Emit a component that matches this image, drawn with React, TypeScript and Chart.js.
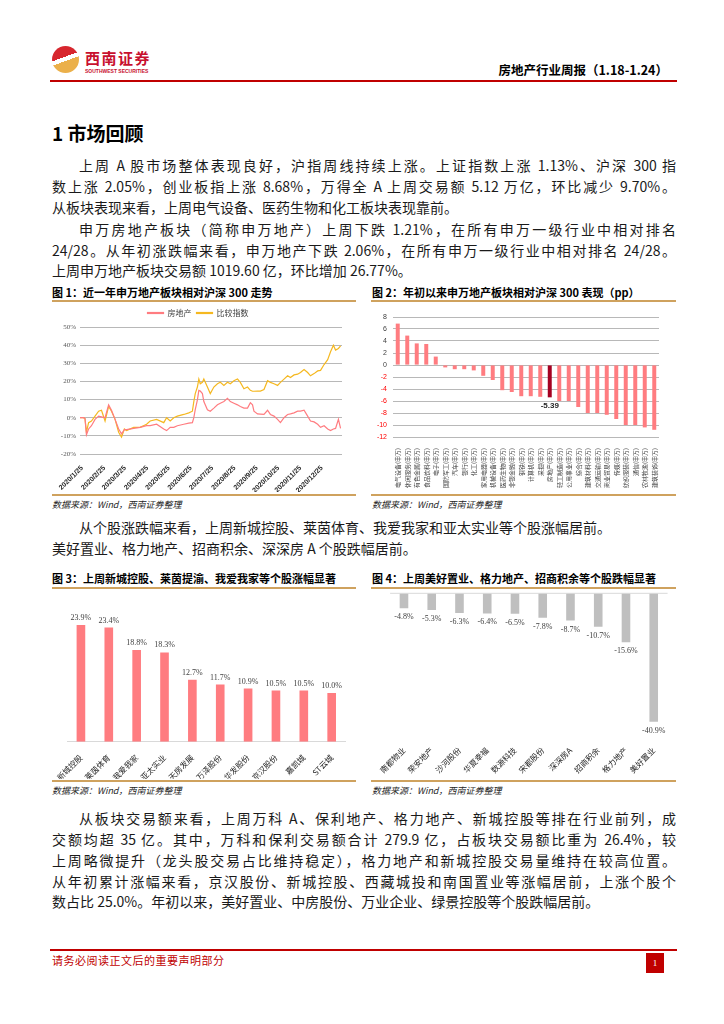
import React, { useEffect, useRef } from "react";
import { Chart, registerables } from "chart.js";

Chart.register(...registerables);

const SANS = '"Liberation Sans", "Noto Sans CJK SC", sans-serif';
const CJK = '"Noto Sans CJK SC", "Liberation Sans", sans-serif';
const SERIF = '"Liberation Serif", "Noto Sans CJK SC", serif';
const PINK = "#FF7C80";
const GOLD = "#F5B820";
const DARK_RED = "#A50021";
const GREY_BAR = "#BFBFBF";
const RED = "#C00000";
const TAN = "#CFA25E";

// ---------- Figure 1: 近一年申万地产板块相对沪深300走势 ----------
const trendStart = "2020/1/22";
const trendEnd = "2021/1/22";
const trendTickLabels = [
  "2020/1/25", "2020/2/25", "2020/3/25", "2020/4/25", "2020/5/25", "2020/6/25",
  "2020/7/25", "2020/8/25", "2020/9/25", "2020/10/25", "2020/11/25", "2020/12/25",
];
const trendDates = [
  "2020/1/22", "2020/1/27", "2020/1/29", "2020/1/31", "2020/2/3",
  "2020/2/7", "2020/2/12", "2020/2/17", "2020/2/21", "2020/2/26", "2020/3/2", "2020/3/6", "2020/3/11", "2020/3/16", "2020/3/20",
  "2020/3/24", "2020/3/27",
  "2020/4/6", "2020/4/15", "2020/4/24", "2020/4/29", "2020/5/8", "2020/5/18", "2020/5/22", "2020/5/27", "2020/6/1", "2020/6/6",
  "2020/6/15", "2020/6/22", "2020/6/27",
  "2020/6/29", "2020/7/1", "2020/7/4", "2020/7/6", "2020/7/8", "2020/7/11", "2020/7/13",
  "2020/7/18", "2020/7/22", "2020/7/27", "2020/8/1", "2020/8/5", "2020/8/10", "2020/8/15", "2020/8/19", "2020/8/24", "2020/8/29", "2020/9/2", "2020/9/7", "2020/9/12", "2020/9/16",
  "2020/9/19", "2020/9/21",
  "2020/9/26", "2020/9/30", "2020/10/5", "2020/10/10", "2020/10/14", "2020/10/19", "2020/10/24", "2020/10/28", "2020/11/2", "2020/11/7", "2020/11/11", "2020/11/16", "2020/11/21", "2020/11/25", "2020/11/30", "2020/12/5", "2020/12/9", "2020/12/14", "2020/12/19", "2020/12/23", "2020/12/28", "2021/1/2", "2021/1/6",
  "2021/1/10", "2021/1/13", "2021/1/17", "2021/1/20",
];
const realEstateTrend = [
  0, 0, -0.5, -9.4, -6.2,
  -4.4, -0.9, 0.9, 0.5, 0, 7.1, 4.1, -0.9, -6.2, -8.9,
  -6.6, -6.6,
  -5.9, -5.3, -4.4, -4.4, -3.6, -6.2, -7.1, -5.3, -5.3, -4.4,
  -3.6, -3.0, -2.7,
  0, 4.4, 9.8, 15.1, 14.7, 13.3, 8.9,
  4.4, 3.6, 5.3, 7.1, 8.0, 8.9, 10.7, 8.9, 8.0, 7.1, 6.2, 5.3, 5.3, 8.3,
  7.1, 3.6,
  2.1, 2.0, 1.8, 4.1, 1.8, 0.9, -0.9, -2.7, 0, 1.8, 2.1, 2.7, 3.6, 3.6, 4.1, 0.9, -1.8, -2.3, -3.6, -5.3, -4.4, -6.2, -7.1,
  -6.2, -5.9, -0.9, -5.9,
];
const compareTrend = [
  0, 0, -0.5, -8.0, -2.7,
  -1.8, 0.9, 3.6, 4.1, -1.8, 6.2, 3.6, -0.9, -8.0, -10.7,
  -6.2, -7.1,
  -5.3, -5.3, -3.6, -1.8, -0.9, -2.7, 0, -1.8, 0, 0.9,
  1.8, 2.7, 3.6,
  8.9, 13.3, 16.9, 21.3, 18.7, 19.5, 21.3,
  16.9, 13.3, 16.9, 18.7, 19.5, 17.8, 19.5, 18.7, 20.4, 21.3, 19.5, 16.0, 16.9, 15.1,
  14.6, 14.6,
  14.7, 14.7, 15.5, 20.4, 19.5, 18.7, 17.8, 19.5, 21.3, 23.1, 22.2, 23.6, 24.0, 24.9, 26.6, 24.9, 23.1, 24.3, 25.8, 26.1, 29.3, 32.0, 36.4,
  40.0, 37.3, 38.2, 39.6,
];
const trendYTicks = [-20, -10, 0, 10, 20, 30, 40, 50];

// ---------- Figure 2: 年初以来申万一级行业相对沪深300表现 (pp) ----------
const industryNames = [
  "电气设备", "休闲服务", "有色金属", "食品饮料", "电子", "国防军工", "汽车", "银行",
  "化工", "家用电器", "机械设备", "医药生物", "非银金融", "钢铁", "计算机", "采掘",
  "房地产", "轻工制造", "公用事业", "综合", "建筑材料", "交通运输", "商业贸易", "传媒",
  "纺织服装", "通信", "农林牧渔", "建筑装饰",
];
const industryRel = [
  6.9, 4.9, 3.6, 3.5, 1.4, -0.4, -0.7, -0.7,
  -0.9, -1.8, -2.5, -4.2, -4.5, -5.2, -5.2, -5.3,
  -5.39, -6.0, -6.0, -7.0, -8.0, -8.0, -8.3, -9.0,
  -10.0, -10.0, -10.4, -10.8,
];
const industryHighlight = "房地产";
const industrySuffix = "(申万)";

// ---------- Figure 3: 上周涨幅居前个股 ----------
const gainNames = ["新城控股", "莱茵体育", "我爱我家", "亚太实业", "天房发展", "万泽股份", "华发股份", "京汉股份", "嘉凯城", "ST云城"];
const gainValues = [23.9, 23.4, 18.8, 18.3, 12.7, 11.7, 10.9, 10.5, 10.5, 10.0];

// ---------- Figure 4: 上周跌幅居前个股 ----------
const lossNames = ["南都物业", "荣安地产", "沙河股份", "华夏幸福", "数源科技", "宋都股份", "深深房A", "招商积余", "格力地产", "美好置业"];
const lossValues = [-4.8, -5.3, -6.3, -6.4, -6.5, -7.8, -8.7, -10.7, -15.6, -40.9];

const dayOf = (s: string) => {
  const [y, m, d] = s.split("/").map(Number);
  const [y0, m0, d0] = trendStart.split("/").map(Number);
  return (Date.UTC(y, m - 1, d) - Date.UTC(y0, m0 - 1, d0)) / 86400000;
};

function useChart(factory: () => any) {
  const ref = useRef<HTMLCanvasElement>(null);
  useEffect(() => {
    const chart = new Chart(ref.current as HTMLCanvasElement, factory());
    return () => chart.destroy();
  }, []);
  return ref;
}

function trendConfig() {
  return {
    type: "line",
    data: {
      datasets: [
        {
          label: "房地产",
          data: trendDates.map((d, i) => ({ x: dayOf(d), y: realEstateTrend[i] })),
          borderColor: PINK,
          backgroundColor: PINK,
          borderWidth: 1.2,
          pointRadius: 0,
        },
        {
          label: "比较指数",
          data: trendDates.map((d, i) => ({ x: dayOf(d), y: compareTrend[i] })),
          borderColor: GOLD,
          backgroundColor: GOLD,
          borderWidth: 1.2,
          pointRadius: 0,
        },
      ],
    },
    options: {
      responsive: false,
      animation: false,
      layout: { padding: { left: 2, right: 14, top: 2, bottom: 0 }, autoPadding: false },
      plugins: {
        legend: {
          display: true,
          position: "top",
          labels: { boxWidth: 16, boxHeight: 1, padding: 5, font: { size: 8, family: CJK }, color: "#404040" },
        },
        tooltip: { enabled: false },
      },
      scales: {
        x: {
          type: "linear",
          min: 0,
          max: dayOf(trendEnd),
          afterBuildTicks: (s: any) => {
            s.ticks = trendTickLabels.map((l) => ({ value: dayOf(l) }));
          },
          afterFit: (s: any) => {
            s.height = 38;
          },
          ticks: {
            autoSkip: false,
            minRotation: 45,
            maxRotation: 45,
            padding: 2,
            font: { size: 7, family: SANS, weight: "bold" },
            color: "#262626",
            callback: (_v: any, i: number) => trendTickLabels[i],
          },
          grid: { display: false },
          border: { display: false },
        },
        y: {
          min: trendYTicks[0],
          max: trendYTicks[trendYTicks.length - 1],
          afterBuildTicks: (s: any) => {
            s.ticks = trendYTicks.map((v) => ({ value: v }));
          },
          afterFit: (s: any) => {
            s.width = 26;
          },
          ticks: { font: { size: 7, family: SERIF }, color: "#595959", padding: 4, callback: (v: any) => v + "%" },
          grid: { color: "#A6A6A6", lineWidth: 0.8, drawTicks: false },
          border: { display: false },
        },
      },
    },
  };
}

function industryConfig() {
  const hi = industryNames.indexOf(industryHighlight);
  return {
    type: "bar",
    data: {
      labels: industryNames.map((n) => n + industrySuffix),
      datasets: [
        {
          data: industryRel,
          backgroundColor: industryNames.map((n) => (n === industryHighlight ? DARK_RED : PINK)),
          barPercentage: 0.42,
          categoryPercentage: 1,
        },
      ],
    },
    options: {
      responsive: false,
      animation: false,
      layout: { padding: { left: 0, right: 17, top: 15, bottom: 0 }, autoPadding: false },
      plugins: { legend: { display: false }, tooltip: { enabled: false } },
      scales: {
        x: {
          afterFit: (s: any) => {
            s.height = 55;
          },
          ticks: { autoSkip: false, minRotation: 90, maxRotation: 90, padding: 3, font: { size: 6, family: CJK }, color: "#404040" },
          grid: { display: false },
          border: { display: false },
        },
        y: {
          min: -12,
          max: 8,
          afterFit: (s: any) => {
            s.width = 22;
          },
          ticks: {
            stepSize: 2,
            padding: 6,
            font: { size: 7, family: SANS },
            color: (c: any) => (c.tick && c.tick.value < 0 ? "#FF0000" : "#404040"),
          },
          grid: { color: "#A6A6A6", lineWidth: 0.8, drawTicks: false },
          border: { display: false },
        },
      },
    },
    plugins: [
      {
        id: "hiLabel",
        afterDatasetsDraw(chart: any) {
          const el = chart.getDatasetMeta(0).data[hi];
          if (!el) return;
          const ctx = chart.ctx;
          ctx.save();
          ctx.font = "bold 8px " + SANS;
          ctx.fillStyle = "#262626";
          ctx.textAlign = "center";
          ctx.textBaseline = "top";
          ctx.fillText(industryRel[hi].toFixed(2), el.x, el.y + 4);
          ctx.restore();
        },
      },
    ],
  };
}

function stockConfig(names: string[], values: number[], color: string, min: number, max: number, pad: any, xh: number, showBorder: boolean) {
  return {
    type: "bar",
    data: {
      labels: names,
      datasets: [{ data: values, backgroundColor: color, barPercentage: 0.31, categoryPercentage: 1 }],
    },
    options: {
      responsive: false,
      animation: false,
      layout: { padding: pad, autoPadding: false },
      plugins: { legend: { display: false }, tooltip: { enabled: false } },
      scales: {
        x: {
          afterFit: (s: any) => {
            s.height = xh;
          },
          ticks: { autoSkip: false, minRotation: 45, maxRotation: 45, padding: 3, font: { size: 8, family: CJK }, color: "#262626" },
          grid: { display: false },
          border: { display: showBorder, color: "#D9D9D9", width: 1 },
        },
        y: { display: false, min, max },
      },
    },
    plugins: [
      {
        id: "valueLabels",
        afterDatasetsDraw(chart: any) {
          const ctx = chart.ctx;
          const meta = chart.getDatasetMeta(0);
          ctx.save();
          ctx.font = "8px " + SERIF;
          ctx.fillStyle = "#404040";
          ctx.textAlign = "center";
          meta.data.forEach((el: any, i: number) => {
            const v = values[i];
            if (v >= 0) {
              ctx.textBaseline = "bottom";
              ctx.fillText(v.toFixed(1) + "%", el.x, el.y - 3);
            } else {
              ctx.textBaseline = "top";
              ctx.fillText(v.toFixed(1) + "%", el.x, el.y + 5);
            }
          });
          if (min < 0 && max === 0) {
            const y0 = chart.scales.y.getPixelForValue(0);
            ctx.strokeStyle = "#D9D9D9";
            ctx.lineWidth = 1;
            ctx.beginPath();
            ctx.moveTo(chart.chartArea.left, y0);
            ctx.lineTo(chart.chartArea.right, y0);
            ctx.stroke();
          }
          ctx.restore();
        },
      },
    ],
  };
}

const abs = (left: number, top: number, extra: any = {}) => ({ position: "absolute" as const, left, top, ...extra });

function TextLine({ top, text, indent = false, justify = true }: { top: number; text: string; indent?: boolean; justify?: boolean }) {
  return (
    <div
      style={abs(52, top, {
        width: 624,
        boxSizing: "border-box",
        paddingLeft: indent ? 27 : 0,
        fontSize: 14,
        lineHeight: "20px",
        fontFamily: CJK,
        color: "#1a1a1a",
        textAlign: justify ? "justify" : "left",
        textAlignLast: justify ? "justify" : "left",
      })}
    >
      {text}
    </div>
  );
}

function FigTitle({ left, top, text }: { left: number; top: number; text: string }) {
  return (
    <div style={abs(left, top, { fontSize: 11, fontWeight: 700, fontFamily: CJK, color: "#000", lineHeight: "14px", whiteSpace: "nowrap" })}>{text}</div>
  );
}

function Rule({ left, top, width, color = TAN, h = 1.5 }: any) {
  return <div style={abs(left, top, { width, height: h, background: color })} />;
}

function Source({ left, top }: { left: number; top: number }) {
  return (
    <div style={abs(left, top, { fontSize: 9, fontStyle: "italic", fontFamily: CJK, color: "#262626", lineHeight: "12px", whiteSpace: "nowrap" })}>
      数据来源：Wind，西南证券整理
    </div>
  );
}

export default function App() {
  const c1 = useChart(trendConfig);
  const c2 = useChart(industryConfig);
  const c3 = useChart(() =>
    stockConfig(gainNames, gainValues, PINK, 0, 30, { left: 15, right: 10.4, top: 6.3, bottom: 0 }, 37.3, true)
  );
  const c4 = useChart(() =>
    stockConfig(lossNames, lossValues, GREY_BAR, -45, 0, { left: 19.1, right: 8.4, top: 4.3, bottom: 0 }, 44.5, false)
  );

  return (
    <div style={{ position: "relative", width: 724, height: 1024, margin: -8, background: "#fff", overflow: "hidden" }}>
      {/* header */}
      <div
        style={abs(52, 46, {
          width: 27,
          height: 27,
          borderRadius: "50%",
          background: "linear-gradient(160deg, #D7262E 0%, #D7262E 42%, #ffffff 42%, #ffffff 54%, #EBB04A 54%, #EBB04A 100%)",
        })}
      />
      <div style={abs(85, 49, { fontSize: 15, fontWeight: 700, color: "#C8102E", fontFamily: CJK, letterSpacing: 1.5, lineHeight: "18px" })}>西南证券</div>
      <div style={abs(85, 68, { fontSize: 5, color: "#C8102E", fontFamily: SANS, fontWeight: 700, lineHeight: "6px", whiteSpace: "nowrap" })}>
        SOUTHWEST SECURITIES
      </div>
      <div style={abs(400, 62, { width: 268, textAlign: "right", fontSize: 12.5, fontWeight: 700, fontFamily: CJK, lineHeight: "16px", color: "#000" })}>
        房地产行业周报（1.18-1.24）
      </div>
      <Rule left={50} top={80} width={627} color={RED} h={2} />

      {/* section 1 */}
      <div style={abs(52, 120, { fontSize: 19, fontWeight: 700, fontFamily: CJK, lineHeight: "26px", color: "#000" })}>1 市场回顾</div>

      <TextLine top={155} indent text="上周 A 股市场整体表现良好，沪指周线持续上涨。上证指数上涨 1.13%、沪深 300 指" />
      <TextLine top={176} text="数上涨 2.05%，创业板指上涨 8.68%，万得全 A 上周交易额 5.12 万亿，环比减少 9.70%。" />
      <TextLine top={197} justify={false} text="从板块表现来看，上周电气设备、医药生物和化工板块表现靠前。" />

      <TextLine top={219} indent text="申万房地产板块（简称申万地产）上周下跌 1.21%，在所有申万一级行业中相对排名" />
      <TextLine top={240} text="24/28。从年初涨跌幅来看，申万地产下跌 2.06%，在所有申万一级行业中相对排名 24/28。" />
      <TextLine top={260} justify={false} text="上周申万地产板块交易额 1019.60 亿，环比增加 26.77%。" />

      {/* figures 1 & 2 */}
      <FigTitle left={52} top={285} text="图 1：近一年申万地产板块相对沪深 300 走势" />
      <FigTitle left={372} top={285} text="图 2：年初以来申万地产板块相对沪深 300 表现（pp）" />
      <Rule left={52} top={300} width={304} />
      <Rule left={371} top={300} width={305} />
      <canvas ref={c1} width={304} height={190} style={abs(52, 302, { width: 304, height: 190 })} />
      <canvas ref={c2} width={305} height={190} style={abs(371, 302, { width: 305, height: 190 })} />
      <Rule left={52} top={494} width={304} />
      <Rule left={371} top={494} width={305} />
      <Source left={52} top={499} />
      <Source left={372} top={499} />

      <TextLine top={517} indent justify={false} text="从个股涨跌幅来看，上周新城控股、莱茵体育、我爱我家和亚太实业等个股涨幅居前。" />
      <TextLine top={538} justify={false} text="美好置业、格力地产、招商积余、深深房 A 个股跌幅居前。" />

      {/* figures 3 & 4 */}
      <FigTitle left={52} top={571} text="图 3：上周新城控股、莱茵提渝、我爱我家等个股涨幅显著" />
      <FigTitle left={372} top={571} text="图 4：上周美好置业、格力地产、招商积余等个股跌幅显著" />
      <Rule left={52} top={587} width={304} />
      <Rule left={371} top={587} width={305} />
      <canvas ref={c3} width={304} height={190} style={abs(52, 589, { width: 304, height: 190 })} />
      <canvas ref={c4} width={305} height={190} style={abs(371, 589, { width: 305, height: 190 })} />
      <Rule left={52} top={780} width={304} />
      <Rule left={371} top={780} width={305} />
      <Source left={52} top={785} />
      <Source left={372} top={785} />

      <TextLine top={808} indent text="从板块交易额来看，上周万科 A、保利地产、格力地产、新城控股等排在行业前列，成" />
      <TextLine top={829} text="交额均超 35 亿。其中，万科和保利交易额合计 279.9 亿，占板块交易额比重为 26.4%，较" />
      <TextLine top={850} text="上周略微提升（龙头股交易占比维持稳定），格力地产和新城控股交易量维持在较高位置。" />
      <TextLine top={871} text="从年初累计涨幅来看，京汉股份、新城控股、西藏城投和南国置业等涨幅居前，上涨个股个" />
      <TextLine top={891} justify={false} text="数占比 25.0%。年初以来，美好置业、中房股份、万业企业、绿景控股等个股跌幅居前。" />

      {/* footer */}
      <Rule left={50} top={949} width={627} color={RED} h={2} />
      <div style={abs(52, 953, { fontSize: 11, color: RED, fontFamily: CJK, lineHeight: "14px", letterSpacing: 0.5 })}>请务必阅读正文后的重要声明部分</div>
      <div
        style={abs(646, 953, {
          width: 18,
          height: 20,
          background: RED,
          color: "#fff",
          fontSize: 9,
          fontFamily: SERIF,
          textAlign: "center",
          lineHeight: "20px",
        })}
      >
        1
      </div>
    </div>
  );
}
